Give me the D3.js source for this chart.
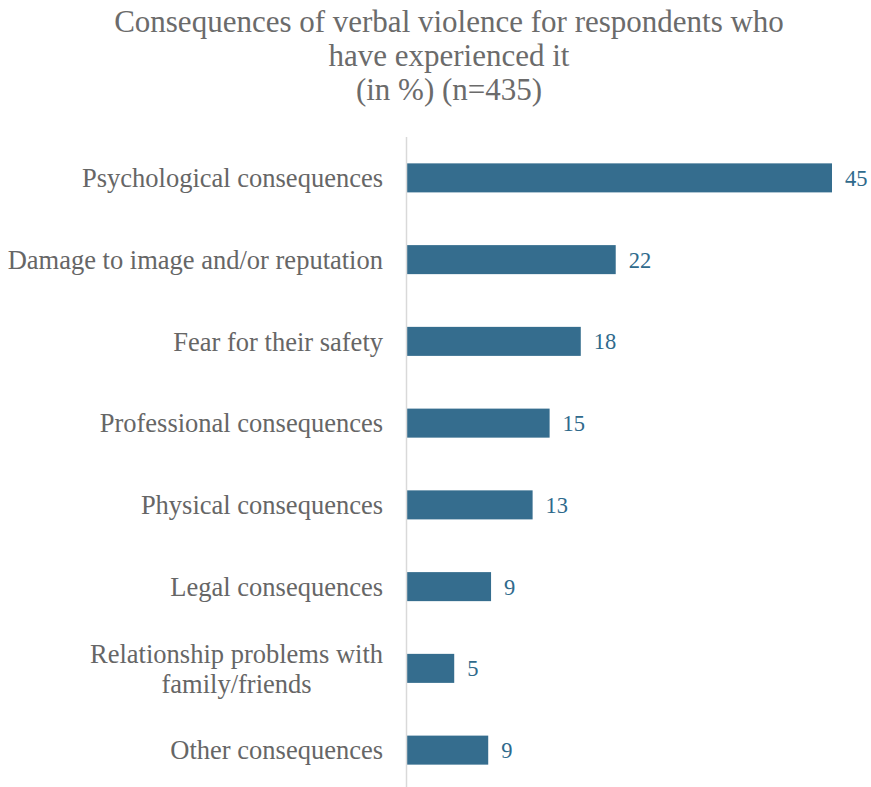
<!DOCTYPE html>
<html>
<head>
<meta charset="utf-8">
<script src="https://cdn.jsdelivr.net/npm/d3@7"></script>
<style>
  body { margin: 0; background: #fff; }
  svg { display: block; }
</style>
</head>
<body>
<div id="chart"></div>
<script>
// chart data
const titleLines = ["Consequences of verbal violence for respondents who", "have experienced it", "(in %) (n=435)"];
const categories = [
  ["Psychological consequences"],
  ["Damage to image and/or reputation"],
  ["Fear for their safety"],
  ["Professional consequences"],
  ["Physical consequences"],
  ["Legal consequences"],
  ["Relationship problems with", "family/friends"],
  ["Other consequences"]
];
const values = [45, 22.1, 18.4, 15.1, 13.3, 8.9, 5, 8.6];

const width = 871, height = 787;
const barColor = "#356d8e";
const textGrey = "#666666";
const fontFamily = "'Liberation Serif', 'Times New Roman', serif";

const svg = d3.select("#chart").append("svg")
  .attr("width", width)
  .attr("height", height);

// title
svg.append("g").selectAll("text")
  .data(titleLines)
  .join("text")
  .attr("x", 449)
  .attr("y", (d, i) => 32 + i * 34)
  .attr("text-anchor", "middle")
  .style("font-family", fontFamily)
  .style("font-size", "31px")
  .style("fill", "#6b6b6b")
  .text(d => d);

const x = d3.scaleLinear().domain([0, 45]).range([407, 832]);
const y = d3.scaleBand()
  .domain(d3.range(categories.length))
  .range([137, 791])
  .paddingInner(0.645)
  .paddingOuter(0.3225);

// bars
svg.append("g").selectAll("rect")
  .data(values)
  .join("rect")
  .attr("x", x(0))
  .attr("y", (d, i) => y(i))
  .attr("width", d => x(d) - x(0))
  .attr("height", y.bandwidth())
  .attr("fill", barColor);

// value labels
svg.append("g").selectAll("text")
  .data(values)
  .join("text")
  .attr("x", d => x(d) + 13)
  .attr("y", (d, i) => y(i) + y.bandwidth() / 2)
  .attr("dy", "0.35em")
  .style("font-family", fontFamily)
  .style("font-size", "22.5px")
  .style("fill", "#2f6a8c")
  .text(d => Math.round(d));

// category labels (multi-line ones are centred on their widest line, right edge at 383)
const cat = svg.append("g").selectAll("text")
  .data(categories)
  .join("text")
  .attr("y", (d, i) => y(i) + y.bandwidth() / 2)
  .style("font-family", fontFamily)
  .style("font-size", "26.5px")
  .style("fill", textGrey);

cat.each(function(d) {
  const t = d3.select(this);
  if (d.length === 1) {
    t.attr("x", 383).attr("text-anchor", "end")
      .append("tspan").attr("x", 383).attr("dy", "0.35em").text(d[0]);
  } else {
    t.attr("text-anchor", "middle");
    d.forEach((line, j) => {
      t.append("tspan").attr("dy", j === 0 ? (0.35 - (d.length - 1) * 0.57) + "em" : "1.14em").text(line);
    });
    const w = d3.max(t.selectAll("tspan").nodes(), n => n.getComputedTextLength());
    t.selectAll("tspan").attr("x", 383 - w / 2);
  }
});

// vertical axis line
svg.append("line")
  .attr("x1", 406.5).attr("x2", 406.5)
  .attr("y1", 137).attr("y2", height)
  .attr("stroke", "#d9d9d9")
  .attr("stroke-width", 1.5);
</script>
</body>
</html>
